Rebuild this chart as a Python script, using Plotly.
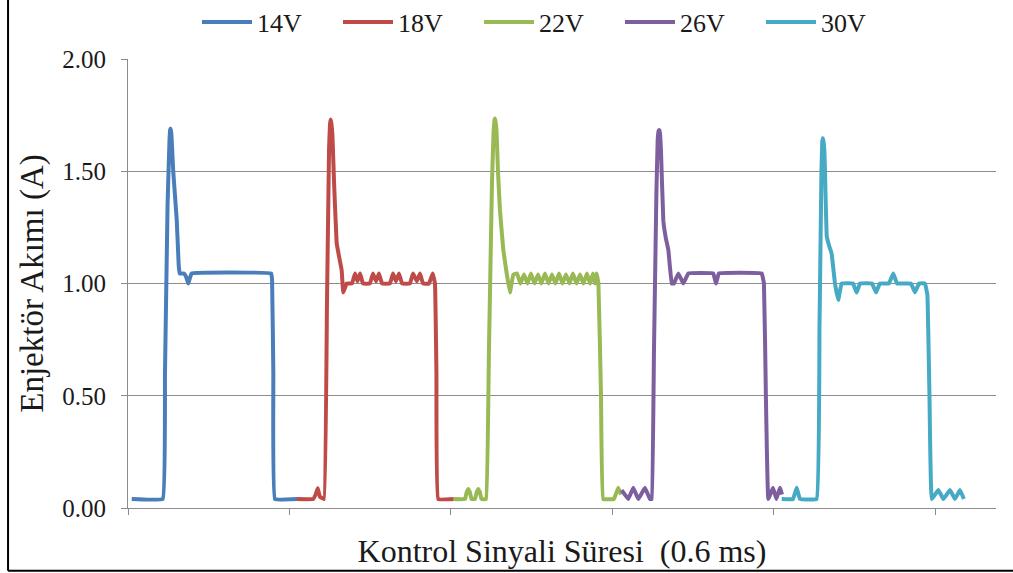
import plotly.graph_objects as go

# Injector current traces for five supply voltages (time in control-signal units)
t_14v = [0.023, 0.215, 0.229, 0.245, 0.257, 0.261, 0.264, 0.268, 0.272, 0.280, 0.302,
         0.314, 0.320, 0.347, 0.360, 0.373, 0.394, 0.886, 0.892, 0.900, 0.910, 1.053]
i_14v = [0.04, 0.04, 0.60, 1.35, 1.64, 1.685, 1.69, 1.67, 1.62, 1.50, 1.28,
         1.08, 1.045, 1.045, 1.03, 1.00, 1.045, 1.045, 1.02, 0.60, 0.04, 0.04]

t_18v = [1.045, 1.146, 1.162, 1.175, 1.188, 1.214, 1.232, 1.245, 1.251, 1.255, 1.260, 1.266,
         1.276, 1.292, 1.307, 1.323, 1.333, 1.354, 1.387, 1.406, 1.421, 1.437, 1.455,
         1.498, 1.517, 1.536, 1.554, 1.573, 1.622, 1.641, 1.659, 1.678, 1.697, 1.746,
         1.765, 1.789, 1.808, 1.827, 1.864, 1.887, 1.901, 1.910, 1.921, 2.025]
i_18v = [0.04, 0.04, 0.06, 0.088, 0.05, 0.04, 0.90, 1.60, 1.71, 1.73, 1.71, 1.66,
         1.45, 1.18, 1.12, 1.06, 0.96, 1.00, 1.00, 1.045, 1.01, 1.045, 1.00,
         1.00, 1.045, 1.01, 1.045, 1.00, 1.00, 1.045, 1.01, 1.045, 1.00, 1.00,
         1.045, 1.01, 1.045, 1.00, 1.00, 1.045, 1.00, 0.60, 0.04, 0.04]

t_22v = [2.014, 2.087, 2.097, 2.107, 2.117, 2.127, 2.149, 2.159, 2.169, 2.179, 2.189,
         2.217, 2.235, 2.254, 2.264, 2.269, 2.272, 2.276, 2.282, 2.291, 2.303, 2.324,
         2.345, 2.365, 2.386, 2.409, 2.430, 2.452, 2.474, 2.495, 2.517, 2.539, 2.560,
         2.582, 2.604, 2.625, 2.647, 2.669, 2.690, 2.712, 2.734, 2.755, 2.777, 2.799,
         2.820, 2.842, 2.861, 2.879, 2.892, 2.902, 2.913, 2.929, 2.943, 3.009, 3.036,
         3.053]
i_22v = [0.04, 0.04, 0.07, 0.085, 0.07, 0.04, 0.04, 0.07, 0.085, 0.07, 0.04,
         0.04, 0.70, 1.45, 1.68, 1.725, 1.735, 1.72, 1.68, 1.50, 1.33, 1.15,
         1.045, 0.96, 1.04, 1.045, 1.00, 1.04, 1.00, 1.045, 1.00, 1.04, 1.00,
         1.045, 1.00, 1.04, 1.00, 1.045, 1.00, 1.04, 1.00, 1.045, 1.00, 1.04,
         1.00, 1.045, 1.00, 1.045, 1.00, 1.045, 1.00, 0.50, 0.04, 0.04, 0.09,
         0.06]

t_26v = [3.057, 3.098, 3.129, 3.160, 3.201, 3.232, 3.243, 3.257, 3.272, 3.280, 3.286,
         3.290, 3.294, 3.300, 3.315, 3.331, 3.346, 3.367, 3.381, 3.408, 3.439, 3.470,
         3.624, 3.641, 3.659, 3.924, 3.938, 3.950, 3.965, 3.994, 4.015, 4.037, 4.050]
i_26v = [0.08, 0.04, 0.09, 0.04, 0.09, 0.04, 0.04, 0.70, 1.40, 1.64, 1.68,
         1.684, 1.67, 1.60, 1.28, 1.20, 1.15, 1.00, 1.00, 1.045, 1.00, 1.045,
         1.045, 1.00, 1.045, 1.045, 1.00, 0.50, 0.04, 0.09, 0.04, 0.09, 0.06]

t_30v = [4.048, 4.118, 4.141, 4.161, 4.264, 4.282, 4.294, 4.299, 4.302, 4.306, 4.313,
         4.327, 4.341, 4.357, 4.378, 4.398, 4.419, 4.489, 4.512, 4.533, 4.607, 4.632,
         4.656, 4.712, 4.739, 4.762, 4.848, 4.873, 4.898, 4.935, 4.950, 4.963, 4.977,
         5.018, 5.049, 5.090, 5.121, 5.152, 5.176]
i_30v = [0.04, 0.04, 0.09, 0.04, 0.04, 0.80, 1.50, 1.63, 1.647, 1.635, 1.58,
         1.21, 1.17, 1.134, 1.00, 0.927, 1.00, 1.00, 0.96, 1.00, 1.00, 0.96,
         1.00, 1.00, 1.045, 1.00, 1.00, 0.96, 1.00, 1.00, 0.95, 0.50, 0.04,
         0.08, 0.04, 0.08, 0.04, 0.08, 0.04]

series_names = ["14V", "18V", "22V", "26V", "30V"]
series_t = [t_14v, t_18v, t_22v, t_26v, t_30v]
series_i = [i_14v, i_18v, i_22v, i_26v, i_30v]
colors = ["#4a7ebb", "#be4b48", "#98b954", "#7d5fa0", "#46aac5"]

y_ticks = [0.0, 0.5, 1.0, 1.5, 2.0]
x_ticks = [0, 1, 2, 3, 4, 5]

SERIF = "Liberation Serif"
GRID = "#8c8c8c"
TEXT = "#1a1a1a"

fig = go.Figure()
for name, t, cur, col in zip(series_names, series_t, series_i, colors):
    fig.add_trace(go.Scatter(
        x=t, y=cur, name=name, mode="lines",
        line=dict(color=col, width=4, shape="spline", smoothing=0.2),
    ))

fig.update_layout(
    width=1013, height=573,
    margin=dict(l=128, r=17, t=59, b=65, autoexpand=False),
    paper_bgcolor="white", plot_bgcolor="white",
    font=dict(family=SERIF, color=TEXT, size=24),
    showlegend=True,
    legend=dict(
        orientation="h", x=0.0795, xanchor="left",
        y=1.0824, yanchor="middle",
        font=dict(family=SERIF, size=26, color=TEXT),
        entrywidth=76, entrywidthmode="pixels", itemwidth=50,
        bgcolor="rgba(0,0,0,0)",
    ),
    xaxis=dict(
        range=[0, 5.375], tickvals=x_ticks, showticklabels=False,
        ticks="outside", ticklen=6, tickcolor=GRID, tickwidth=1,
        showline=True, linecolor=GRID, linewidth=1, showgrid=False, zeroline=False,
        title=dict(text="Kontrol Sinyali Süresi  (0.6 ms)",
                   font=dict(family=SERIF, size=32, color=TEXT), standoff=25),
    ),
    yaxis=dict(
        range=[0, 2], tickvals=y_ticks, tickformat=".2f",
        ticks="outside", ticklen=6, tickcolor=GRID, tickwidth=1,
        showline=True, linecolor=GRID, linewidth=1,
        showgrid=True, gridcolor=GRID, gridwidth=1, zeroline=False,
        tickfont=dict(family=SERIF, size=25, color=TEXT),
        ticklabelstandoff=10,
        title=dict(text="Enjektör Akımı (A)",
                   font=dict(family=SERIF, size=33, color=TEXT), standoff=8),
    ),
)

# Outer frame: left and bottom edges of the chart area
fig.add_shape(type="line", xref="paper", yref="paper",
              x0=-0.1382, x1=-0.1382, y0=-0.1396, y1=1.14,
              line=dict(color="black", width=2))
fig.add_shape(type="line", xref="paper", yref="paper",
              x0=-0.1382, x1=1.02, y0=-0.1396, y1=-0.1396,
              line=dict(color="black", width=2))

fig.write_html("out.html")
